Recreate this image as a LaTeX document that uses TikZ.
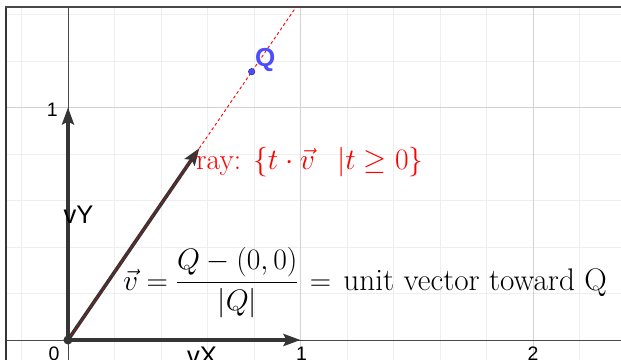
\RequirePackage{fix-cm}
\documentclass[tikz,border=0pt]{standalone}
\usepackage{amsmath}
\usepackage{fontspec}
\setmainfont{Latin Modern Roman}
\newfontfamily\ggbfont{Liberation Sans}
\usetikzlibrary{arrows.meta}
\definecolor{ggbdark}{HTML}{353535}
\definecolor{ggbblue}{HTML}{4D4DFF}
\definecolor{minorgrid}{HTML}{EEEEEE}
\definecolor{majorgrid}{HTML}{D2D2D2}
\tikzset{
  minorline/.style={draw=minorgrid, line width=0.8pt},
  majorline/.style={draw=majorgrid, line width=1pt},
  axisline/.style={draw=ggbdark!90, line width=0.9pt},
  vecline/.style={draw=ggbdark, line width=3.6pt, -{Stealth[length=17pt,width=12pt,inset=3pt]}},
  rayline/.style={draw=red, line width=0.9pt, dash pattern=on 3pt off 2.5pt},
  numlabel/.style={inner sep=0pt, font=\ggbfont\fontsize{19.5}{20}\selectfont},
  veclabel/.style={inner sep=0pt, font=\ggbfont\fontsize{25.5}{26}\selectfont, text=black},
  mathlabel/.style={inner sep=0pt, font=\fontsize{29.6}{35}\selectfont},
}
\begin{document}
\begin{tikzpicture}[x=232.5pt,y=232.5pt]
\useasboundingbox[fill=white] (-0.29247,-0.08602) rectangle (2.37849,1.46237);
% minor grid
\foreach \i in {-1,1,2,3,4,6,7,8,9,11} {
  \draw[minorline] (\i*0.2,-0.08602) -- (\i*0.2,1.4323);
}
\foreach \j in {1,2,3,4,6,7} {
  \draw[minorline] (-0.2667,\j*0.2) -- (2.37849,\j*0.2);
}
% major grid
\draw[majorline] (1,-0.08602) -- (1,1.4323);
\draw[majorline] (2,-0.08602) -- (2,1.4323);
\draw[majorline] (-0.2667,1) -- (2.37849,1);
% axes
\draw[axisline] (-0.2667,0) -- (2.37849,0);
\draw[axisline] (0,-0.08602) -- (0,1.4323);
% frame
\draw[draw=ggbdark, line width=1.6pt] (-0.2667,-0.08602) -- (-0.2667,1.4323);
\draw[draw=ggbdark!90, line width=2.2pt] (-0.2705,1.4323) -- (2.37849,1.4323);
% points
\coordinate (O) at (0,0);
\coordinate (X) at (1,0);
\coordinate (Y) at (0,1);
\coordinate (V) at (0.565,0.825);
\coordinate (R) at (0.981,1.4323);
% vectors
\draw[vecline] (O) -- (X);
\draw[vecline] (O) -- (Y);
\draw[vecline] (O) -- (V);
% ray
\draw[rayline, opacity=0.55] (O) -- (V);
\draw[rayline] (V) -- (R);
% point Q
\node[circle, fill=ggbblue, draw=ggbblue!60!black, line width=0.5pt, inner sep=0pt, minimum size=6.5pt] (Q) at (0.790,1.154) {};
\node[circle, fill=ggbdark, inner sep=0pt, minimum size=9pt] (Odot) at (O) {};
% labels
\node[inner sep=0pt, anchor=base west, text=ggbblue, font=\ggbfont\bfseries\fontsize{26}{27}\selectfont] (Qlab) at (0.804,1.178) {Q};
\node[numlabel, anchor=east] (ny1) at (-0.043,0.989) {1};
\node[numlabel, anchor=north] (n0) at (-0.060,-0.0287) {0};
\node[numlabel, anchor=north] (nx1) at (1.005,-0.0287) {1};
\node[numlabel, anchor=north] (nx2) at (2.0,-0.0287) {2};
\node[veclabel, anchor=base west] (vYlab) at (-0.0202,0.502) {vY};
\node[veclabel, anchor=base west] (vXlab) at (0.512,-0.106) {vX};
\node[mathlabel, anchor=base west, text=red] (raylab) at (0.5505,0.735) {ray: $\{t\cdot\vec{v}\hspace{0.75em}|t\geq 0\}$};
\node[mathlabel, anchor=base west] (vdef) at (0.2366,0.215) {$\vec{v}=\dfrac{Q-(0,0)}{|Q|}\hspace{3pt}=\hspace{4pt}\text{\fontsize{31.2}{35}\selectfont unit vector toward Q}$};
\end{tikzpicture}
\end{document}
